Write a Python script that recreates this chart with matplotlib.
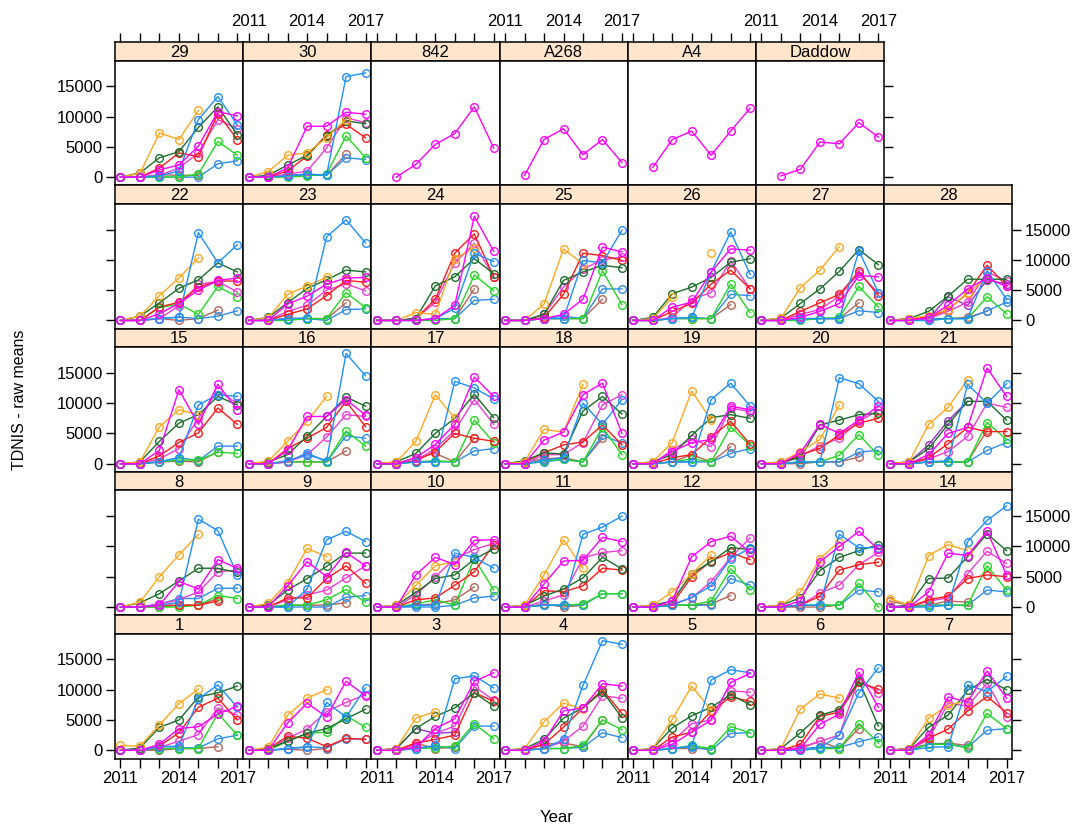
import numpy as np
import matplotlib.pyplot as plt

plt.rcParams['font.family'] = ['Liberation Sans', 'DejaVu Sans']

n = np.nan
years = [2011, 2012, 2013, 2014, 2015, 2016, 2017]

# panel layout, top row first
panel_rows = [
    ['29', '30', '842', 'A268', 'A4', 'Daddow'],
    ['22', '23', '24', '25', '26', '27', '28'],
    ['15', '16', '17', '18', '19', '20', '21'],
    ['8', '9', '10', '11', '12', '13', '14'],
    ['1', '2', '3', '4', '5', '6', '7'],
]

# raw means per group
orange = {
    '1': [800, 700, 4200, 7700, 10100, n, n],
    '2': [0, 500, 5800, 8600, 10000, n, n],
    '3': [0, 300, 5300, 6400, n, n, n],
    '4': [0, 300, 4700, 7800, 6800, n, n],
    '5': [0, 300, 5100, 10600, 6600, n, n],
    '6': [0, 300, 6800, 9300, 8600, n, n],
    '7': [0, 300, 5300, 7400, 8200, n, n],
    '8': [0, 800, 5000, 8600, 12000, n, n],
    '9': [0, 600, 4000, 9700, 8300, n, n],
    '10': [0, 300, 3600, 6800, 7500, n, n],
    '11': [0, 300, 5300, 11100, 6400, n, n],
    '12': [0, 300, 2500, 5500, 8600, n, n],
    '13': [0, 300, 2500, 8000, 10800, n, n],
    '14': [1400, 300, 8500, 10300, 9300, n, n],
    '15': [0, 300, 6100, 8900, 8100, n, n],
    '16': [0, 400, 3700, 7000, 11100, n, n],
    '17': [0, 300, 3700, 11400, 7500, n, n],
    '18': [0, 300, 5700, 5200, 13100, n, n],
    '19': [0, 300, 3500, 12000, 7200, n, n],
    '20': [0, 300, 2000, 4000, 9700, n, n],
    '21': [0, 300, 6500, 9300, 13900, n, n],
    '22': [0, 700, 4100, 7000, 10300, n, n],
    '23': [0, 400, 4300, 5700, 7100, n, n],
    '24': [0, 0, 1300, 1000, 10200, 12000, n],
    '25': [0, 0, 2700, 11800, 9300, n, n],
    '26': [0, 300, 3800, n, 11100, n, n],
    '27': [0, 400, 5400, 8300, 12200, n, n],
    '28': [0, 300, 800, 1800, 4500, 7000, n],
    '29': [0, 600, 7300, 6200, 11000, n, n],
    '30': [0, 900, 3600, 4000, 6500, 9500, n],
}
blue = {
    '1': [0, 0, 600, 700, 8500, 10800, 7100],
    '2': [0, 0, 300, 500, 7900, 5500, 10300],
    '3': [0, 0, 300, 800, 11800, 12300, 10300],
    '4': [0, 0, 300, 1800, 10700, 18100, 17500],
    '5': [0, 0, 300, 700, 11600, 13300, 12800],
    '6': [0, 0, 0, 400, 2500, 9500, 13600],
    '7': [0, 0, 500, 600, 10800, 9700, 12200],
    '8': [0, 0, 300, 800, 14500, 12600, 5300],
    '9': [0, 0, 0, 3000, 11100, 12500, 10800],
    '10': [0, 0, 300, 300, 8900, 8200, 6400],
    '11': [0, 0, 300, 300, 12000, 13200, 15000],
    '12': [0, 0, 300, 1600, 3500, 8000, 9700],
    '13': [0, 0, 300, 300, 12000, 9800, 9800],
    '14': [0, 0, 0, 300, 10800, 14300, 16700],
    '15': [0, 0, 300, 1000, 9700, 11400, 11100],
    '16': [0, 0, 500, 1500, 500, 18200, 14500],
    '17': [0, 0, 300, 300, 13600, 12500, 10700],
    '18': [0, 0, 600, 1000, 10000, 6500, 10600],
    '19': [0, 0, 300, 300, 10600, 13300, 9500],
    '20': [0, 0, 300, 300, 14200, 13200, 10300],
    '21': [0, 0, 300, 500, 13100, 10000, 13200],
    '22': [0, 0, 300, 550, 14500, 9500, 12500],
    '23': [0, 0, 300, 400, 13800, 16600, 12800],
    '24': [0, 0, 0, 300, 2000, 11100, 9700],
    '25': [0, 0, 300, 300, 9900, 9500, 14900],
    '26': [0, 0, 300, 500, 8000, 14600, 7600],
    '27': [0, 0, 300, 300, 300, 11500, 4600],
    '28': [0, 0, 0, 300, 300, 8200, 3500],
    '29': [0, 0, 200, 1000, 9500, 13300, 8600],
    '30': [0, 0, 200, 500, 300, 16600, 17200],
}
dgreen = {
    '1': [0, 400, 3800, 5000, 8800, 9500, 10600],
    '2': [0, 300, 1500, 2800, 3600, 5200, 6800],
    '3': [0, 300, 3600, 5600, 7000, 9500, 7300],
    '4': [0, 300, 1800, 5300, 7000, 9700, 5400],
    '5': [0, 300, 3700, 5700, 7100, 9200, 7500],
    '6': [0, 300, 2900, 5800, 6700, 11500, 4000],
    '7': [0, 300, 3800, 5800, 9900, 11700, 10000],
    '8': [0, 700, 2200, 4300, 6400, 6400, 5700],
    '9': [0, 300, 2800, 4700, 6700, 8900, 8900],
    '10': [0, 300, 2400, 4700, 5300, 7900, 9600],
    '11': [0, 300, 1800, 3000, 4800, 8200, 6300],
    '12': [0, 300, 1000, 5500, 7500, 9800, 9500],
    '13': [0, 300, 1500, 6000, 8200, 9300, 10300],
    '14': [0, 300, 4700, 4800, 8300, 12100, 9300],
    '15': [0, 300, 3700, 6700, 8100, 11100, 9700],
    '16': [0, 300, 1500, 4500, 7800, 11000, 9500],
    '17': [0, 300, 1700, 5000, 7500, 11500, 7600],
    '18': [0, 500, 1800, 1600, 8700, 11100, 8200],
    '19': [0, 300, 1500, 4700, 7600, 8100, 7500],
    '20': [0, 300, 1000, 6400, 7200, 8100, 8300],
    '21': [0, 300, 2500, 6500, 10300, 10300, 7200],
    '22': [0, 700, 2900, 5300, 6700, 9500, 8000],
    '23': [0, 500, 2900, 5300, 6700, 8300, 8000],
    '24': [0, 0, 300, 5700, 7200, 10200, 7700],
    '25': [0, 0, 1000, 6600, 8000, 9100, 8700],
    '26': [0, 500, 4400, 5500, 7100, 9600, 10200],
    '27': [0, 400, 2800, 5200, 8100, 11700, 9200],
    '28': [0, 300, 1500, 4000, 6800, 6800, 6800],
    '29': [0, 700, 3200, 4200, 8200, 11600, 7000],
    '30': [0, 300, 2000, 3600, 6800, 9300, 8800],
}
red = {
    '1': [0, 0, 700, 2900, 7100, 8600, 5000],
    '2': [0, 300, 2300, 2000, 600, 2000, 1800],
    '3': [0, 0, 1200, 1800, 2500, 9500, 8100],
    '4': [0, 0, 1000, 3800, 7000, 10000, 6100],
    '5': [0, 0, 2200, 3000, 6500, 8800, 8100],
    '6': [0, 0, 1000, 5600, 6300, 11200, 10100],
    '7': [0, 300, 2000, 3500, 6500, 8900, 6200],
    '8': [0, 0, 300, 300, 300, 1000, n],
    '9': [0, 0, 1500, 1500, 4700, 6800, 3900],
    '10': [0, 0, 1200, 1500, 3600, 5800, 10300],
    '11': [0, 0, 2700, 2500, 3500, 6400, 6100],
    '12': [0, 0, 500, 5000, 7600, 9000, 7800],
    '13': [0, 0, 300, 1800, 6100, 7000, 7400],
    '14': [0, 0, 1200, 1800, 4700, 5300, 5000],
    '15': [0, 0, 1300, 3500, 5100, 9200, 6500],
    '16': [0, 0, 2500, 4200, 6000, 10300, 6100],
    '17': [0, 0, 500, 2000, 5000, 4200, 3700],
    '18': [0, 300, 1800, 3100, 3600, 6400, 3100],
    '19': [0, 0, 1000, 1500, 4400, 7000, 3200],
    '20': [0, 0, 1500, 2500, 4800, 6700, 7500],
    '21': [0, 0, 1000, 3300, 6000, 5300, 5300],
    '22': [0, 0, 2200, 3000, 5500, 6500, 6500],
    '23': [0, 0, 1000, 1900, 4100, 6600, 6300],
    '24': [0, 0, 300, 3500, 11100, 14300, 7200],
    '25': [0, 0, 500, 4300, 11100, 10700, 9900],
    '26': [0, 0, 1500, 2800, 6000, 8300, 5200],
    '27': [0, 0, 1500, 2900, 4300, 8100, 4100],
    '28': [0, 300, 500, 1800, 4500, 9100, 5700],
    '29': [0, 0, 1500, 4000, 3400, 10500, 6200],
    '30': [0, 0, 1000, 3500, 7000, 8700, 6500],
}
magenta = {
    '1': [0, 0, 1000, 3600, 3900, 6000, 7300],
    '2': [0, 0, 4500, 7800, 5500, 11400, 9000],
    '3': [0, 0, 500, 3600, 5200, 11400, 12800],
    '4': [0, 0, 1500, 6500, 7000, 11000, 10600],
    '5': [0, 0, 1000, 3000, 5000, 11200, 12700],
    '6': [0, 0, 300, 4300, 6000, 12900, 7100],
    '7': [0, 0, 2500, 8800, 8000, 13100, 8600],
    '8': [0, 0, 300, 4200, 3000, 7800, 6400],
    '9': [0, 0, 3500, 7500, 5000, 9000, 6800],
    '10': [0, 0, 5300, 8200, 7000, 11000, 11100],
    '11': [0, 0, 3800, 7600, 7700, 11500, 10800],
    '12': [0, 0, 1000, 8300, 10800, 11700, 9000],
    '13': [0, 0, 1000, 7500, 10000, 12500, 9500],
    '14': [0, 0, 2500, 8900, 8500, 12500, 5300],
    '15': [0, 0, 2200, 12200, 6500, 13100, 8900],
    '16': [0, 0, 2200, 7800, 7800, 10600, 8000],
    '17': [0, 0, 1000, 3200, 6500, 14300, 11100],
    '18': [0, 0, 3900, 5200, 11400, 13300, 5000],
    '19': [0, 0, 2000, 3500, 4000, 9500, 8900],
    '20': [0, 0, 1800, 6500, 5000, 7200, 9500],
    '21': [0, 0, 1500, 5000, 6000, 15800, 11100],
    '22': [0, 0, 1100, 2800, 5000, 6600, 7000],
    '23': [0, 0, 2700, 4000, 6000, 7000, 7100],
    '24': [0, 0, 0, 300, 2500, 17200, 11400],
    '25': [0, 0, 300, 1000, 3500, 12100, 11300],
    '26': [0, 0, 2200, 3000, 8000, 11800, 11600],
    '27': [0, 0, 500, 1500, 2800, 7400, 7200],
    '28': [0, 0, 500, 2500, 5200, 7000, 5600],
    '29': [0, 0, 1200, 2000, 5100, 10800, 10100],
    '30': [0, 0, 1500, 8400, 8400, 10700, 10400],
    '842': [n, 0, 2100, 5400, 7200, 11600, 4800],
    'A268': [n, 300, 6200, 8000, 3700, 6200, 2400],
    'A4': [n, 1600, 6200, 7600, 3600, 7600, 11400],
    'Daddow': [n, 200, 1300, 5800, 5500, 9000, 6600],
}
pink = {
    '1': [0, 0, 500, 1500, 2600, 7000, 5800],
    '2': [0, 0, 2000, 3500, 6400, 7900, 9200],
    '3': [0, 0, 800, 2800, 4000, 10500, 8300],
    '4': [0, 0, 300, 1500, 4000, 9000, 8600],
    '5': [0, 0, 1500, 4400, 5000, 9800, 9600],
    '6': [0, 0, 500, 1500, 2500, 11800, 9500],
    '7': [0, 0, 1800, 7800, 7300, 11100, 5500],
    '8': [0, 0, 500, 1200, 2500, 5800, 6100],
    '9': [0, 0, 1200, 2000, 2800, 4800, 6800],
    '10': [0, 0, 2000, 5000, 8000, 9500, 10500],
    '11': [0, 0, 1000, 2000, 8100, 9000, 9300],
    '12': [0, 0, 500, 1500, 4200, 8200, 11400],
    '13': [0, 0, 300, 2300, 3600, 7000, 9000],
    '14': [0, 0, 1000, 1500, 5500, 9200, 7200],
    '15': [0, 0, 800, 2500, 7500, 12000, 10000],
    '16': [0, 0, 300, 1500, 4400, 8100, 7800],
    '17': [0, 0, 500, 2500, 5500, 10600, 6500],
    '18': [0, 0, 1500, 1500, 3500, 9700, 11400],
    '19': [0, 0, 2300, 4100, 2800, 9200, 8600],
    '20': [0, 0, 1200, 3000, 4200, 7000, 8800],
    '21': [0, 0, 800, 2000, 4500, 10000, 9300],
    '22': [0, 0, 300, 2400, 6000, 6400, 4700],
    '23': [0, 0, 1500, 2500, 5000, 6000, 4900],
    '24': [0, 0, 300, 3000, 9500, 12700, 7200],
    '25': [0, 0, 1000, 5500, 8500, 10000, 10500],
    '26': [0, 0, 500, 3500, 4600, 9800, 5200],
    '27': [0, 0, 1000, 1800, 4000, 7800, 4500],
    '28': [0, 0, 300, 1500, 3000, 8000, 6500],
    '29': [0, 0, 300, 1500, 4000, 9500, 8000],
    '30': [0, 0, 500, 1000, 4800, 9800, 9000],
}
lime = {
    '1': [0, 0, 300, 300, 300, 6100, 2500],
    '2': [0, 0, 1500, 2800, 3000, 5700, 3800],
    '3': [0, 0, 300, 400, 700, 4400, 1900],
    '4': [0, 0, 300, 300, 800, 5000, 3400],
    '5': [0, 0, 300, 800, 300, 3900, 2900],
    '6': [0, 0, 0, 300, 300, 4400, 1200],
    '7': [0, 0, 1000, 1000, 400, 6100, 3600],
    '8': [0, 0, 0, 0, 300, 1900, 1400],
    '9': [0, 0, 300, 300, 1200, 2900, 800],
    '10': [0, 0, 500, 1200, 300, 8000, 2800],
    '11': [0, 0, 300, 300, 500, 2200, 2200],
    '12': [0, 0, 300, 300, 1000, 6300, 2800],
    '13': [0, 0, 300, 300, 300, 3900, 0],
    '14': [0, 0, 300, 300, 300, 6800, 2800],
    '15': [0, 0, 300, 600, 600, 1900, 1700],
    '16': [0, 0, 300, 300, 300, 5400, 2900],
    '17': [0, 0, 300, 500, 300, 7200, 3500],
    '18': [0, 0, 500, 700, 300, 6000, 1500],
    '19': [0, 0, 300, 800, 300, 6100, 3000],
    '20': [0, 0, 300, 300, 1400, 4800, 1400],
    '21': [0, 0, 300, 300, 300, 6800, 4000],
    '22': [0, 0, 2100, 2700, 1000, 5600, 3900],
    '23': [0, 0, 0, 300, 300, 4600, 2100],
    '24': [0, 0, 0, 0, 300, 7500, 4900],
    '25': [0, 0, 300, 300, 300, 8200, 2600],
    '26': [0, 0, 300, 300, 300, 6000, 1300],
    '27': [0, 0, 0, 300, 500, 5600, 2200],
    '28': [0, 0, 0, 300, 300, 3900, 1100],
    '29': [0, 0, 0, 0, 500, 5900, 3600],
    '30': [0, 0, 0, 200, 500, 6800, 3200],
}
blue2 = {
    '1': [0, 0, 300, 400, 400, 1900, 2500],
    '2': [0, 0, 300, 600, 400, 1900, 1800],
    '3': [0, 0, 300, 700, 300, 4000, 4000],
    '4': [0, 0, 300, 300, 500, 2900, 2100],
    '5': [0, 0, 300, 600, 0, 2800, 2900],
    '6': [0, 0, 300, 500, 500, 1400, 2200],
    '7': [0, 0, 1000, 1000, 500, 3300, 3600],
    '8': [0, 0, 500, 1400, 1400, 3100, 3100],
    '9': [0, 0, 0, 0, 0, 1600, 1900],
    '10': [0, 0, 0, 0, 300, 1500, 1800],
    '11': [0, 0, 300, 300, 300, 2200, 2200],
    '12': [0, 0, 300, 300, 300, 4700, 3600],
    '13': [0, 0, 300, 300, 300, 2800, 2500],
    '14': [0, 0, 300, 300, 300, 2800, 2500],
    '15': [0, 0, 300, 1000, 500, 2900, 2900],
    '16': [0, 0, 300, 1800, 300, 4600, 4200],
    '17': [0, 0, 300, 300, 300, 2100, 2500],
    '18': [0, 0, 300, 700, 300, 4700, 3400],
    '19': [0, 0, 300, 300, 300, 1700, 2500],
    '20': [0, 0, 300, 300, 300, 1900, 2200],
    '21': [0, 0, 300, 300, 300, 2200, 3500],
    '22': [0, 0, 300, 550, 300, 700, 1600],
    '23': [0, 0, 300, 300, 0, 1800, 1900],
    '24': [0, 0, 0, 300, 300, 3300, 3500],
    '25': [0, 0, 300, 700, 300, 5200, 5200],
    '26': [0, 0, 300, 500, 300, 4300, 4100],
    '27': [0, 0, 300, 300, 300, 1600, 1300],
    '28': [0, 0, 300, 300, 300, 1600, 3000],
    '29': [0, 0, 0, 0, 0, 2200, 2700],
    '30': [0, 0, 300, 300, 300, 3200, 2900],
}
brown = {
    '1': [0, 0, 0, 300, 300, 600, n],
    '2': [0, 0, 200, 0, 300, n, n],
    '3': [0, 0, 1200, 300, 500, n, n],
    '4': [0, 0, 1000, 1200, 600, 5000, n],
    '5': [0, 0, 300, 300, 300, n, n],
    '6': [0, 0, 300, 1500, 300, 3600, n],
    '7': [0, 300, 1000, 1200, 800, n, n],
    '8': [0, 0, 0, 300, 300, 1400, n],
    '9': [0, 0, 300, 300, 300, 700, n],
    '10': [0, 0, 300, 500, 1200, 3300, n],
    '11': [0, 0, 500, 0, 300, n, n],
    '12': [0, 0, 300, 300, 500, 1900, n],
    '13': [0, 0, 0, 0, 300, n, n],
    '14': [1000, 300, 300, 1000, 800, n, n],
    '15': [0, 0, 300, 400, 300, 2000, n],
    '16': [0, 0, 300, 300, 300, 2100, n],
    '17': [0, 0, 1000, 1700, 300, 4200, n],
    '18': [0, 300, 800, 1000, 300, 4200, n],
    '19': [0, 0, 300, 1500, 300, 2800, n],
    '20': [0, 0, 0, 300, 300, 1100, n],
    '21': [0, 0, 300, 300, 300, 5500, n],
    '22': [0, 0, 300, 0, 300, 1700, n],
    '23': [0, 0, 300, 300, 300, 2900, n],
    '24': [0, 0, 0, 300, 300, 5200, n],
    '25': [0, 0, 300, 300, 300, 3500, n],
    '26': [0, 0, 300, 300, 300, 2600, n],
    '27': [0, 0, 300, 300, 300, 2900, n],
    '28': [0, 0, 300, 300, 500, 1500, n],
    '29': [0, 0, 400, 300, 300, n, n],
    '30': [0, 0, 300, 500, 300, 3800, n],
}
purple = {
    '3': [0, 300, 3600, 2800, 3000, n, n],
    '21': [0, 300, 3100, 7100, 10300, n, n],
    '28': [0, 0, 300, 3900, 2500, 6700, 6000],
}

series = [
    (brown, '#B5655A'),
    (blue2, '#2F8FE8'),
    (lime, '#22D822'),
    (purple, '#9B30C8'),
    (pink, '#F03CD8'),
    (red, '#FF1A1A'),
    (dgreen, '#1C6E2C'),
    (orange, '#FFA820'),
    (blue, '#1E90FF'),
    (magenta, '#FF00FF'),
]

W, H = 1085, 832
col_w = 128.2
row_h = 143.3
strip_h = 18.5
left0, top0 = 115, 42
xlim = (2010.72, 2017.3)
ylim = (-1350, 19250)
yticks = [0, 5000, 10000, 15000]
xlabels = ['2011', '', '', '2014', '', '', '2017']
fs = 12
tick_kw = dict(length=6.5, width=1.0, color='black', labelsize=fs, pad=2.5)


def box(x, y, w, h):
    return [x / W, 1 - (y + h) / H, w / W, h / H]


fig = plt.figure(figsize=(W / 100, H / 100), dpi=100)

for r, row in enumerate(panel_rows):
    ncol = len(row)
    for c, name in enumerate(row):
        x0 = left0 + c * col_w
        y0 = top0 + r * row_h

        # strip
        st = fig.add_axes(box(x0, y0, col_w, strip_h))
        st.set_facecolor('#FFE5CC')
        st.set_xlim(*xlim)
        st.set_yticks([])
        st.text(0.5, 0.45, name, transform=st.transAxes, ha='center',
                va='center', fontsize=fs)
        for sp in st.spines.values():
            sp.set_linewidth(1.1)
        if r == 0:
            st.set_xticks(years)
            st.set_xticklabels(xlabels if c % 2 == 1 else [''] * 7)
            st.tick_params(axis='x', top=True, bottom=False, labeltop=True,
                           labelbottom=False, **tick_kw)
        else:
            st.set_xticks([])

        # panel
        ax = fig.add_axes(box(x0, y0 + strip_h, col_w, row_h - strip_h))
        for vals, col in series:
            if name in vals:
                ax.plot(years, vals[name], color=col, lw=1.0, marker='o',
                        ms=5.5, mfc='none', mec=col, mew=1.0)
        ax.set_xlim(*xlim)
        ax.set_ylim(*ylim)
        ax.set_xticks(years)
        ax.set_yticks(yticks)
        for sp in ax.spines.values():
            sp.set_linewidth(1.1)

        is_bottom = r == len(panel_rows) - 1
        ax.set_xticklabels(xlabels if (is_bottom and c % 2 == 0) else [''] * 7)
        ax.tick_params(axis='x', bottom=is_bottom, top=False,
                       labelbottom=is_bottom, **tick_kw)

        is_left = c == 0
        is_right = c == ncol - 1
        ylabs = [str(v) for v in yticks]
        ax.set_yticklabels(ylabs)
        ax.tick_params(axis='y', left=is_left, right=is_right,
                       labelleft=is_left and r % 2 == 0,
                       labelright=is_right and r % 2 == 1 and ncol == 7,
                       **tick_kw)

fig.text(20 / W, 1 - 400 / H, 'TDNIS - raw means', rotation=90,
         ha='center', va='center', fontsize=11.5)
fig.text(557 / W, 1 - 818 / H, 'Year', ha='center', va='center', fontsize=12)

fig.savefig('out.png', dpi=100)
